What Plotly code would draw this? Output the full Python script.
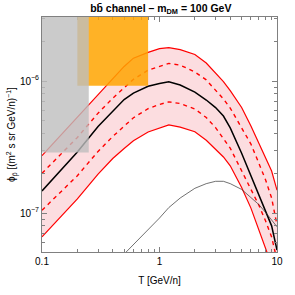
import plotly.graph_objects as go

T = [0.1, 0.15, 0.2, 0.3, 0.4, 0.5, 0.6, 0.8, 1.0, 1.2, 1.5, 2, 2.5, 3, 3.5, 4, 5, 6, 7, 8, 9, 10]

central = [1.47e-7, 2.17e-7, 2.90e-7, 4.52e-7, 5.93e-7, 7.24e-7, 8.11e-7, 9.12e-7, 9.57e-7, 9.86e-7,
           9.33e-7, 8.23e-7, 7.18e-7, 6.29e-7, 5.43e-7, 4.42e-7, 2.84e-7, 1.92e-7, 1.36e-7, 1.02e-7,
           8.0e-8, 5.25e-8]
upper_solid = [2.72e-7, 4.02e-7, 5.28e-7, 7.86e-7, 1.04e-6, 1.29e-6, 1.49e-6, 1.65e-6, 1.76e-6, 1.79e-6,
               1.73e-6, 1.59e-6, 1.37e-6, 1.16e-6, 9.9e-7, 8.45e-7, 6.31e-7, 4.56e-7, 3.35e-7, 2.56e-7,
               2.08e-7, 1.49e-7]
upper_dashed = [2.00e-7, 2.87e-7, 3.74e-7, 5.71e-7, 7.41e-7, 8.89e-7, 1.03e-6, 1.21e-6, 1.30e-6, 1.36e-6,
                1.32e-6, 1.17e-6, 1.02e-6, 8.55e-7, 7.31e-7, 6.24e-7, 4.41e-7, 3.33e-7, 2.39e-7, 1.78e-7,
                1.30e-7, 8.11e-8]
lower_dashed = [1.05e-7, 1.48e-7, 1.92e-7, 2.93e-7, 3.80e-7, 4.55e-7, 5.27e-7, 6.17e-7, 6.65e-7, 6.95e-7,
                6.76e-7, 6.14e-7, 5.29e-7, 4.44e-7, 3.70e-7, 3.10e-7, 2.09e-7, 1.51e-7, 1.15e-7, 8.69e-8,
                6.58e-8, 4.4e-8]
lower_solid = [6.61e-8, 9.70e-8, 1.28e-7, 1.97e-7, 2.59e-7, 3.08e-7, 3.53e-7, 4.11e-7, 4.43e-7, 4.65e-7,
               4.48e-7, 4.13e-7, 3.56e-7, 3.05e-7, 2.66e-7, 2.28e-7, 1.56e-7, 1.09e-7, 7.63e-8, 5.48e-8,
               4.04e-8, 2.85e-8]

T_bg = [0.5, 0.6, 0.8, 1.0, 1.2, 1.5, 2, 2.5, 3, 3.5, 4, 5, 6, 7, 8, 9, 10]
background = [4.89e-8, 5.77e-8, 7.43e-8, 9.17e-8, 1.10e-7, 1.30e-7, 1.54e-7, 1.67e-7, 1.74e-7, 1.74e-7,
              1.67e-7, 1.51e-7, 1.31e-7, 1.16e-7, 1.01e-7, 8.86e-8, 7.87e-8]

# excluded / data regions: [T_min, T_max, phi_min]
gray_box = [0.1, 0.25, 2.87e-7]
orange_box = [0.2, 0.8, 9.2e-7]

x_ticks = [0.1, 1, 10]
x_ticklabels = ["0.1", "1", "10"]
y_ticks = [1e-7, 1e-6]
y_ticklabels = ["10<sup>−7</sup>", "10<sup>−6</sup>"]
x_minor = [0.2, 0.3, 0.4, 0.5, 0.6, 0.7, 0.8, 0.9, 2, 3, 4, 5, 6, 7, 8, 9]
y_minor = [6e-8, 7e-8, 8e-8, 9e-8, 2e-7, 3e-7, 4e-7, 5e-7, 6e-7, 7e-7, 8e-7, 9e-7, 2e-6, 3e-6]

fig = go.Figure()
fig.add_trace(go.Scatter(x=T, y=lower_solid, mode="lines", line=dict(color="red", width=1.2),
                         showlegend=False))
fig.add_trace(go.Scatter(x=T, y=upper_solid, mode="lines", line=dict(color="red", width=1.2),
                         fill="tonexty", fillcolor="rgba(245,120,130,0.25)", showlegend=False))
fig.add_trace(go.Scatter(x=T, y=upper_dashed, mode="lines", line=dict(color="red", width=1.4, dash="4px,4px"),
                         showlegend=False))
fig.add_trace(go.Scatter(x=T, y=lower_dashed, mode="lines", line=dict(color="red", width=1.4, dash="4px,4px"),
                         showlegend=False))
fig.add_trace(go.Scatter(x=T, y=central, mode="lines", line=dict(color="black", width=1.5),
                         showlegend=False))
fig.add_trace(go.Scatter(x=T_bg, y=background, mode="lines", line=dict(color="#333333", width=0.7),
                         showlegend=False))

fig.add_shape(type="rect", xref="x", yref="y", x0=orange_box[0], x1=orange_box[1], y0=orange_box[2], y1=1e-5,
              fillcolor="rgba(255,165,0,0.85)", line=dict(width=0), layer="above")
fig.add_shape(type="rect", xref="x", yref="y", x0=gray_box[0], x1=gray_box[1], y0=gray_box[2], y1=1e-5,
              fillcolor="rgba(190,190,190,0.8)", line=dict(width=0), layer="above")

axis_common = dict(showline=True, linecolor="#808080", linewidth=1, mirror="allticks",
                   ticks="inside", ticklen=5, tickcolor="#808080", showgrid=False, zeroline=False,
                   tickfont=dict(size=10, color="black", family="Liberation Sans"))

fig.update_xaxes(type="log", range=[-1, 1], tickvals=x_ticks, ticktext=x_ticklabels,
                 minor=dict(tickvals=x_minor, ticks="inside", ticklen=3, tickcolor="#808080", showgrid=False),
                 title=dict(text="T [GeV/n]", font=dict(size=10, family="Liberation Sans", color="black"),
                            standoff=10),
                 **axis_common)
fig.update_yaxes(type="log", range=[-7.295, -5.515], tickvals=y_ticks, ticktext=y_ticklabels,
                 minor=dict(tickvals=y_minor, ticks="inside", ticklen=3, tickcolor="#808080", showgrid=False),
                 title=dict(text="ϕ<sub>p\u0304</sub> [(m<sup>2</sup> s sr GeV/n)<sup>−1</sup>]",
                            font=dict(size=10, family="Liberation Sans", color="black"), standoff=2),
                 **axis_common)

fig.update_layout(
    width=295, height=295,
    margin=dict(l=41.5, r=17.5, t=17, b=43),
    paper_bgcolor="white", plot_bgcolor="white",
    title=dict(text="<b>bb\u0304 channel – m<sub>DM</sub> = 100 GeV</b>", x=0.545, xanchor="center",
               y=0.985, yanchor="top", font=dict(size=10.5, family="Liberation Sans", color="black")),
)

fig.write_html("out.html", config={"displayModeBar": False},
               post_script="document.body.style.margin='0px';")
